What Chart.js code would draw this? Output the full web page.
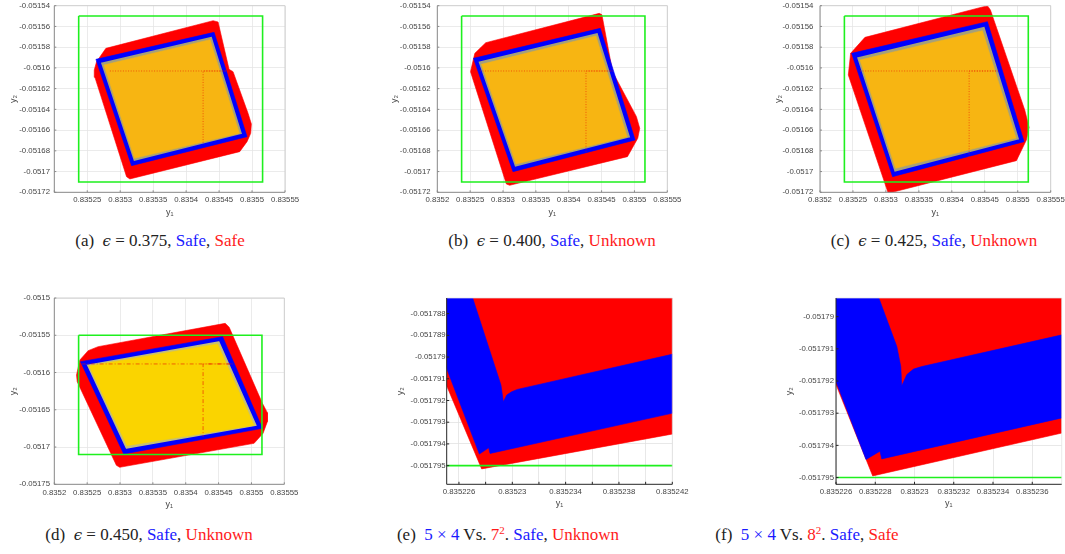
<!DOCTYPE html>
<html><head><meta charset="utf-8">
<script src="https://cdn.jsdelivr.net/npm/chart.js@4.4.1/dist/chart.umd.min.js"></script>
<style>
html,body{margin:0;padding:0;background:#fff;}
#wrap{position:relative;width:1065px;height:554px;overflow:hidden;background:#fff;}
canvas{position:absolute;}
.cap{position:absolute;font-family:"Liberation Serif","DejaVu Serif",serif;font-size:17px;color:#222;white-space:nowrap;transform:translateX(-50%);line-height:20px;}
.b{color:#1a1aff}.r{color:#ff1a1a}
.cap i{font-family:"DejaVu Serif",serif;font-size:15px;}
.cap sup{font-size:11px;vertical-align:0.55em;line-height:0;}
</style></head><body><div id="wrap">
<canvas id="ca" width="320" height="225" style="left:0px;top:0px"></canvas>
<canvas id="cb" width="320" height="225" style="left:380px;top:0px"></canvas>
<canvas id="cc" width="305" height="225" style="left:760px;top:0px"></canvas>
<canvas id="cd" width="320" height="235" style="left:0px;top:280px"></canvas>
<canvas id="ce" width="320" height="235" style="left:380px;top:280px"></canvas>
<canvas id="cf" width="305" height="235" style="left:760px;top:280px"></canvas>
<div class="cap" style="left:160px;top:231px">(a)&nbsp; <i>ϵ</i> = 0.375, <span class="b">Safe</span>, <span class="r">Safe</span></div>
<div class="cap" style="left:552px;top:231px">(b)&nbsp; <i>ϵ</i> = 0.400, <span class="b">Safe</span>, <span class="r">Unknown</span></div>
<div class="cap" style="left:934px;top:231px">(c)&nbsp; <i>ϵ</i> = 0.425, <span class="b">Safe</span>, <span class="r">Unknown</span></div>
<div class="cap" style="left:149px;top:525px">(d)&nbsp; <i>ϵ</i> = 0.450, <span class="b">Safe</span>, <span class="r">Unknown</span></div>
<div class="cap" style="left:508px;top:525px">(e)&nbsp; <span class="b">5 × 4</span> Vs. <span class="r">7<sup>2</sup></span>. <span class="b">Safe</span>, <span class="r">Unknown</span></div>
<div class="cap" style="left:807px;top:525px">(f)&nbsp; <span class="b">5 × 4</span> Vs. <span class="r">8<sup>2</sup></span>. <span class="b">Safe</span>, <span class="r">Safe</span></div>
</div>
<script>
// ---------- tick values / labels ----------
const topXTicks = [0.8352, 0.83525, 0.8353, 0.83535, 0.8354, 0.83545, 0.8355, 0.83555];
const topXLabels = ['0.8352', '0.83525', '0.8353', '0.83535', '0.8354', '0.83545', '0.8355', '0.83555'];
const aXLabels = ['', '0.83525', '0.8353', '0.83535', '0.8354', '0.83545', '0.8355', '0.83555'];
const topYTicks = [-0.05154, -0.05156, -0.05158, -0.0516, -0.05162, -0.05164, -0.05166, -0.05168, -0.0517, -0.05172];
const topYLabels = ['-0.05154', '-0.05156', '-0.05158', '-0.0516', '-0.05162', '-0.05164', '-0.05166', '-0.05168', '-0.0517', '-0.05172'];
const dYTicks = [-0.0515, -0.05155, -0.0516, -0.05165, -0.0517, -0.05175];
const dYLabels = ['-0.0515', '-0.05155', '-0.0516', '-0.05165', '-0.0517', '-0.05175'];
const eXTicks = [0.835226, 0.835228, 0.83523, 0.835232, 0.835234, 0.835236, 0.835238, 0.83524, 0.835242];
const eXLabels = ['0.835226', '', '0.83523', '', '0.835234', '', '0.835238', '', '0.835242'];
const eYTicks = [-0.051788, -0.051789, -0.05179, -0.051791, -0.051792, -0.051793, -0.051794, -0.051795];
const eYLabels = ['-0.051788', '-0.051789', '-0.05179', '-0.051791', '-0.051792', '-0.051793', '-0.051794', '-0.051795'];
const fXTicks = [0.835226, 0.835228, 0.83523, 0.835232, 0.835234, 0.835236];
const fXLabels = ['0.835226', '0.835228', '0.83523', '0.835232', '0.835234', '0.835236'];
const fYTicks = [-0.05179, -0.051791, -0.051792, -0.051793, -0.051794, -0.051795];
const fYLabels = ['-0.05179', '-0.051791', '-0.051792', '-0.051793', '-0.051794', '-0.051795'];

// ---------- axis ranges ----------
const topXRange = [0.8352, 0.83555];
const topYRange = [-0.05172, -0.05154];
const dYRange = [-0.05175, -0.0515];
const eXRange = [0.83522508, 0.835242];
const eYRange = [-0.05179586, -0.05178728];
const fXRange = [0.835226, 0.8352375];
const fYRange = [-0.05179521, -0.05178942];

// ---------- safe box (green) ----------
const boxY1 = [0.835237, 0.835516, 0.835516, 0.835237, 0.835237];
const boxY2 = [-0.05155, -0.05155, -0.05171, -0.05171, -0.05155];

// ---------- (a) eps = 0.375 ----------
const aRedY1 = [0.83526414, 0.83527828, 0.83544091, 0.83544848, 0.83546515, 0.83547121, 0.83549394, 0.83549899, 0.83549798, 0.83549242, 0.83548131, 0.83531465, 0.83530960, 0.83526162, 0.83526061];
const aRedY2 = [-0.05159400, -0.05158114, -0.05155446, -0.05155575, -0.05160139, -0.05160364, -0.05164381, -0.05165410, -0.05166310, -0.05167113, -0.05168077, -0.05170713, -0.05170488, -0.05160910, -0.05160203];
const aBlueY1 = [0.83526313, 0.83544242, 0.83549242, 0.83531717];
const aBlueY2 = [-0.05159175, -0.05156571, -0.05166631, -0.05169427];
const aBandY1 = [0.83526869, 0.83543990, 0.83548687, 0.83531970];
const aBandY2 = [-0.05159432, -0.05156860, -0.05166438, -0.05169106];
const aFillY1 = [0.83527525, 0.83543636, 0.83548081, 0.83532172];
const aFillY2 = [-0.05159721, -0.05157278, -0.05166310, -0.05168720];
const aDotY1 = [0.83528434, 0.83542576, 0.83546111, 0.83542576, 0.83542576];
const aDotY2 = [-0.05160299, -0.05160299, -0.05160299, -0.05160299, -0.05167274];

// ---------- (b) eps = 0.400 ----------
const bRedY1 = [0.83525051, 0.83525707, 0.83527374, 0.83544646, 0.83545051, 0.83546667, 0.83550303, 0.83550808, 0.83550505, 0.83548939, 0.83531010, 0.83530505];
const bRedY2 = [-0.05160364, -0.05158596, -0.05157568, -0.05154739, -0.05154868, -0.05160364, -0.05164703, -0.05165828, -0.05166792, -0.05168559, -0.05171324, -0.05171195];
const bBlueY1 = [0.83525505, 0.83544798, 0.83550101, 0.83531515];
const bBlueY2 = [-0.05159078, -0.05156186, -0.05166952, -0.05170006];
const bBandY1 = [0.83526061, 0.83544495, 0.83549545, 0.83531717];
const bBandY2 = [-0.05159335, -0.05156507, -0.05166759, -0.05169654];
const bFillY1 = [0.83526717, 0.83544141, 0.83548889, 0.83531970];
const bFillY2 = [-0.05159657, -0.05156925, -0.05166631, -0.05169268];
const bDotY1 = [0.83526465, 0.83542626, 0.83546667, 0.83542626, 0.83542626];
const bDotY2 = [-0.05160299, -0.05160299, -0.05160299, -0.05160299, -0.05168077];

// ---------- (c) eps = 0.425 ----------
const cRedY1 = [0.83524293, 0.83524646, 0.83526818, 0.83545404, 0.83545859, 0.83551061, 0.83551717, 0.83551313, 0.83549798, 0.83530354];
const cRedY2 = [-0.05160686, -0.05158596, -0.05157054, -0.05154000, -0.05154418, -0.05164061, -0.05165732, -0.05166954, -0.05168946, -0.05172096];
const cBlueY1 = [0.83524798, 0.83545404, 0.83550960, 0.83531010];
const cBlueY2 = [-0.05158596, -0.05155543, -0.05167114, -0.05170489];
const cBandY1 = [0.83525404, 0.83545051, 0.83550404, 0.83531212];
const cBandY2 = [-0.05158918, -0.05155896, -0.05166954, -0.05170136];
const cFillY1 = [0.83526061, 0.83544646, 0.83549747, 0.83531465];
const cFillY2 = [-0.05159239, -0.05156411, -0.05166761, -0.05169686];
const cDotY1 = [0.83526061, 0.83542626, 0.83547020, 0.83542626, 0.83542626];
const cDotY2 = [-0.05160299, -0.05160299, -0.05160299, -0.05160299, -0.05168946];

// ---------- (d) eps = 0.450 ----------
const dRedY1 = [0.83523384, 0.83523889, 0.83525152, 0.83526667, 0.83546010, 0.83546616, 0.83551667, 0.83552424, 0.83552424, 0.83551768, 0.83550404, 0.83529949, 0.83529444, 0.83523485];
const dRedY2 = [-0.05160331, -0.05158318, -0.05157066, -0.05156530, -0.05153399, -0.05153936, -0.05164132, -0.05165385, -0.05166592, -0.05168158, -0.05169499, -0.05172719, -0.05172451, -0.05161225];
const dBlueY1 = [0.83523990, 0.83545606, 0.83551667, 0.83530556];
const dBlueY2 = [-0.05158542, -0.05155188, -0.05167487, -0.05170930];
const dBandY1 = [0.83524697, 0.83545202, 0.83551061, 0.83530808];
const dBandY2 = [-0.05158855, -0.05155635, -0.05167263, -0.05170394];
const dFillY1 = [0.83525303, 0.83544848, 0.83550404, 0.83531061];
const dFillY2 = [-0.05159123, -0.05156172, -0.05167084, -0.05169812];
const dDotY1 = [0.8352416, 0.8354264, 0.8354716, 0.8354264, 0.8354264];
const dDotY2 = [-0.0515885, -0.0515885, -0.0515885, -0.0515885, -0.05168604];

// ---------- (e) 5x4 vs 7^2 zoom ----------
const eRedY1 = [0.83522695, 0.8352425, 0.8352425, 0.8352277, 0.8352250, 0.8352250];
const eRedY2 = [-0.0517870, -0.0517870, -0.05179349, -0.05179515, -0.05179121, -0.0517870];
const eBlueY1 = [0.8352250, 0.83522688, 0.83522915, 0.83522933, 0.83522958, 0.83522995, 0.83523038, 0.8352425, 0.8352425, 0.83522833, 0.83522823, 0.83522753, 0.8352250];
const eBlueY2 = [-0.0517870, -0.0517870, -0.05179129, -0.05179206, -0.05179175, -0.05179160, -0.05179149, -0.05178980, -0.05179252, -0.05179444, -0.05179418, -0.05179447, -0.05179040];
const eGreenY1 = [0.8352250, 0.8352425];
const eGreenY2 = [-0.051795, -0.051795];

// ---------- (f) 5x4 vs 8^2 zoom ----------
const fRedY1 = [0.83522816, 0.8352377, 0.8352377, 0.83522787, 0.8352259, 0.8352259];
const fRedY2 = [-0.0517893, -0.0517893, -0.05179359, -0.05179495, -0.05179196, -0.0517893];
const fBlueY1 = [0.8352259, 0.83522811, 0.83522910, 0.83522930, 0.83522935, 0.83522961, 0.83522995, 0.83523037, 0.8352377, 0.8352377, 0.83522833, 0.83522824, 0.83522753, 0.8352259];
const fBlueY2 = [-0.0517893, -0.0517893, -0.05179093, -0.05179155, -0.05179215, -0.05179180, -0.05179163, -0.05179155, -0.05179054, -0.05179312, -0.05179442, -0.05179418, -0.05179444, -0.05179186];
const fGreenY1 = [0.8352259, 0.8352377];
const fGreenY2 = [-0.051795, -0.051795];

// ---------- colours ----------
const RED = '#ff0000', BLUE = '#0000ff', GREEN = '#1ef01e';
const ORANGE = '#f7b512', KHAKI = '#a5a07a';
const YELLOW = '#fad400', OLIVE = '#c4be78';
const DOTRED = 'rgba(235,20,0,0.75)';

// ---------- helpers ----------
function pts(xs, ys, close) {
  const p = xs.map((x, i) => ({x: x, y: ys[i]}));
  if (close) p.push({x: xs[0], y: ys[0]});
  return p;
}
function area(xs, ys, color, order, edgeColor, edgeWidth) {
  return {data: pts(xs, ys, true), showLine: true, fill: 'shape', backgroundColor: color,
    borderColor: edgeColor || color, borderWidth: edgeWidth || 0.6, pointRadius: 0, order: order, clip: 0, tension: 0};
}
function line(xs, ys, color, width, dash, order) {
  return {data: pts(xs, ys, false), showLine: true, fill: false, borderColor: color,
    backgroundColor: color, borderWidth: width, borderDash: dash, pointRadius: 0, order: order, clip: 0, tension: 0};
}

const framePlugin = {
  id: 'frame',
  afterDatasetsDraw(chart, args, o) {
    const {ctx, chartArea: a, scales} = chart;
    const x = scales.x, y = scales.y;
    ctx.save();
    ctx.lineWidth = 1;
    ctx.strokeStyle = o.boxColor;
    ctx.beginPath();
    ctx.moveTo(a.left, a.top); ctx.lineTo(a.right, a.top); ctx.lineTo(a.right, a.bottom);
    ctx.stroke();
    ctx.strokeStyle = o.axisColor;
    ctx.beginPath();
    ctx.moveTo(a.left, a.top); ctx.lineTo(a.left, a.bottom); ctx.lineTo(a.right, a.bottom);
    x.ticks.forEach(t => { const p = x.getPixelForValue(t.value); ctx.moveTo(p, a.bottom); ctx.lineTo(p, a.bottom - o.tick); });
    y.ticks.forEach(t => { const p = y.getPixelForValue(t.value); ctx.moveTo(a.left, p); ctx.lineTo(a.left + o.tick, p); });
    ctx.stroke();
    ctx.restore();
  }
};

function makeChart(id, datasets, g) {
  const tickFont = {family: "'Liberation Sans', Arial, sans-serif", size: 7.8};
  const titleFont = {family: "'Liberation Sans', 'DejaVu Sans', sans-serif", size: 9};
  new Chart(document.getElementById(id), {
    type: 'scatter',
    data: {datasets: datasets},
    options: {
      responsive: false, animation: false, devicePixelRatio: 1,
      layout: {padding: g.pad},
      events: [],
      plugins: {legend: {display: false}, tooltip: {enabled: false},
        frame: {boxColor: g.boxColor, axisColor: g.axisColor, tick: g.tick}},
      scales: {
        x: {
          type: 'linear', min: g.xr[0], max: g.xr[1],
          afterBuildTicks: s => { s.ticks = g.xt.map(v => ({value: v})); },
          afterFit: s => { s.height = g.hx; s.paddingLeft = 0; s.paddingRight = 0; },
          ticks: {autoSkip: false, maxRotation: 0, minRotation: 0, padding: g.xpad, font: tickFont, color: '#454545',
            callback: (v, i) => g.xl[i]},
          grid: {color: g.gridColor, lineWidth: 0.8, drawTicks: false},
          border: {display: false},
          title: {display: true, text: 'y₁', font: titleFont, color: '#454545', padding: {top: 0, bottom: g.xtpad}}
        },
        y: {
          type: 'linear', min: g.yr[0], max: g.yr[1],
          afterBuildTicks: s => { s.ticks = g.yt.map(v => ({value: v})); },
          afterFit: s => { s.width = g.wy; s.paddingTop = 0; s.paddingBottom = 0; },
          ticks: {autoSkip: false, padding: g.ypad, font: tickFont, color: '#454545',
            callback: (v, i) => g.yl[i]},
          grid: {color: g.gridColor, lineWidth: 0.8, drawTicks: false},
          border: {display: false},
          title: {display: true, text: 'y₂', font: titleFont, color: '#454545', padding: {top: g.ytpad, bottom: 0}}
        }
      }
    },
    plugins: [framePlugin]
  });
}

function topSets(rx, ry, bx, by, kx, ky, fx, fy, dx, dy, fillColor, bandColor, dash) {
  return [
    line(boxY1, boxY2, GREEN, 1.6, [], 0),
    line(dx, dy, DOTRED, 0.8, dash, 1),
    area(fx, fy, fillColor, 2),
    area(kx, ky, bandColor, 3, BLUE, 2.2),
    area(bx, by, BLUE, 4),
    area(rx, ry, RED, 5)
  ];
}

const topGeom = {xr: topXRange, yr: topYRange, xt: topXTicks, yt: topYTicks, yl: topYLabels, hx: 32.7, xpad: 3.0, xtpad: 7.3,
  gridColor: '#e6e6e6', boxColor: '#cfcfcf', axisColor: '#8a8a8a', tick: 2};

makeChart('ca', topSets(aRedY1, aRedY2, aBlueY1, aBlueY2, aBandY1, aBandY2, aFillY1, aFillY2, aDotY1, aDotY2, ORANGE, KHAKI, [1, 1.6]),
  Object.assign({}, topGeom, {xl: aXLabels, pad: {left: 0, right: 35, top: 5.7, bottom: 0}, wy: 54.3, ypad: 4.3, ytpad: 7.9}));
makeChart('cb', topSets(bRedY1, bRedY2, bBlueY1, bBlueY2, bBandY1, bBandY2, bFillY1, bFillY2, bDotY1, bDotY2, ORANGE, KHAKI, [1, 1.6]),
  Object.assign({}, topGeom, {xl: topXLabels, pad: {left: 0, right: 32.7, top: 5.7, bottom: 0}, wy: 57.3, ypad: 6.7, ytpad: 9.6}));
makeChart('cc', topSets(cRedY1, cRedY2, cBlueY1, cBlueY2, cBandY1, cBandY2, cFillY1, cFillY2, cDotY1, cDotY2, ORANGE, KHAKI, [1, 1.6]),
  Object.assign({}, topGeom, {xl: topXLabels, pad: {left: 0, right: 14.3, top: 5.7, bottom: 0}, wy: 60, ypad: 6.7, ytpad: 12.9}));
makeChart('cd', topSets(dRedY1, dRedY2, dBlueY1, dBlueY2, dBandY1, dBandY2, dFillY1, dFillY2, dDotY1, dDotY2, YELLOW, OLIVE, [4, 2, 1, 2]),
  Object.assign({}, topGeom, {yr: dYRange, yt: dYTicks, yl: dYLabels, xl: topXLabels, hx: 30.7, xpad: 4.3, xtpad: 5.3,
    pad: {left: 0, right: 35.7, top: 18, bottom: 0}, wy: 54.3, ypad: 4.3, ytpad: 7.9}));

makeChart('ce', [
    line(eGreenY1, eGreenY2, GREEN, 1.6, [], 0),
    area(eBlueY1, eBlueY2, BLUE, 1),
    area(eRedY1, eRedY2, RED, 2)
  ], {xr: eXRange, yr: eYRange, xt: eXTicks, xl: eXLabels, yt: eYTicks, yl: eYLabels, hx: 30.7, xpad: 3.3, xtpad: 6.3,
    gridColor: '#e2e2e2', boxColor: 'rgba(225,225,225,0.7)', axisColor: '#262626', tick: 2.5,
    pad: {left: 0, right: 27.7, top: 18, bottom: 0}, wy: 66.7, ypad: 1, ytpad: 15.3});
makeChart('cf', [
    line(fGreenY1, fGreenY2, GREEN, 1.6, [], 0),
    area(fBlueY1, fBlueY2, BLUE, 1),
    area(fRedY1, fRedY2, RED, 2)
  ], {xr: fXRange, yr: fYRange, xt: fXTicks, xl: fXLabels, yt: fYTicks, yl: fYLabels, hx: 30.7, xpad: 3.3, xtpad: 6.3,
    gridColor: '#e2e2e2', boxColor: 'rgba(225,225,225,0.7)', axisColor: '#262626', tick: 2.5,
    pad: {left: 0, right: 3.3, top: 18, bottom: 0}, wy: 76, ypad: 2, ytpad: 23.9});
</script>
</body></html>
